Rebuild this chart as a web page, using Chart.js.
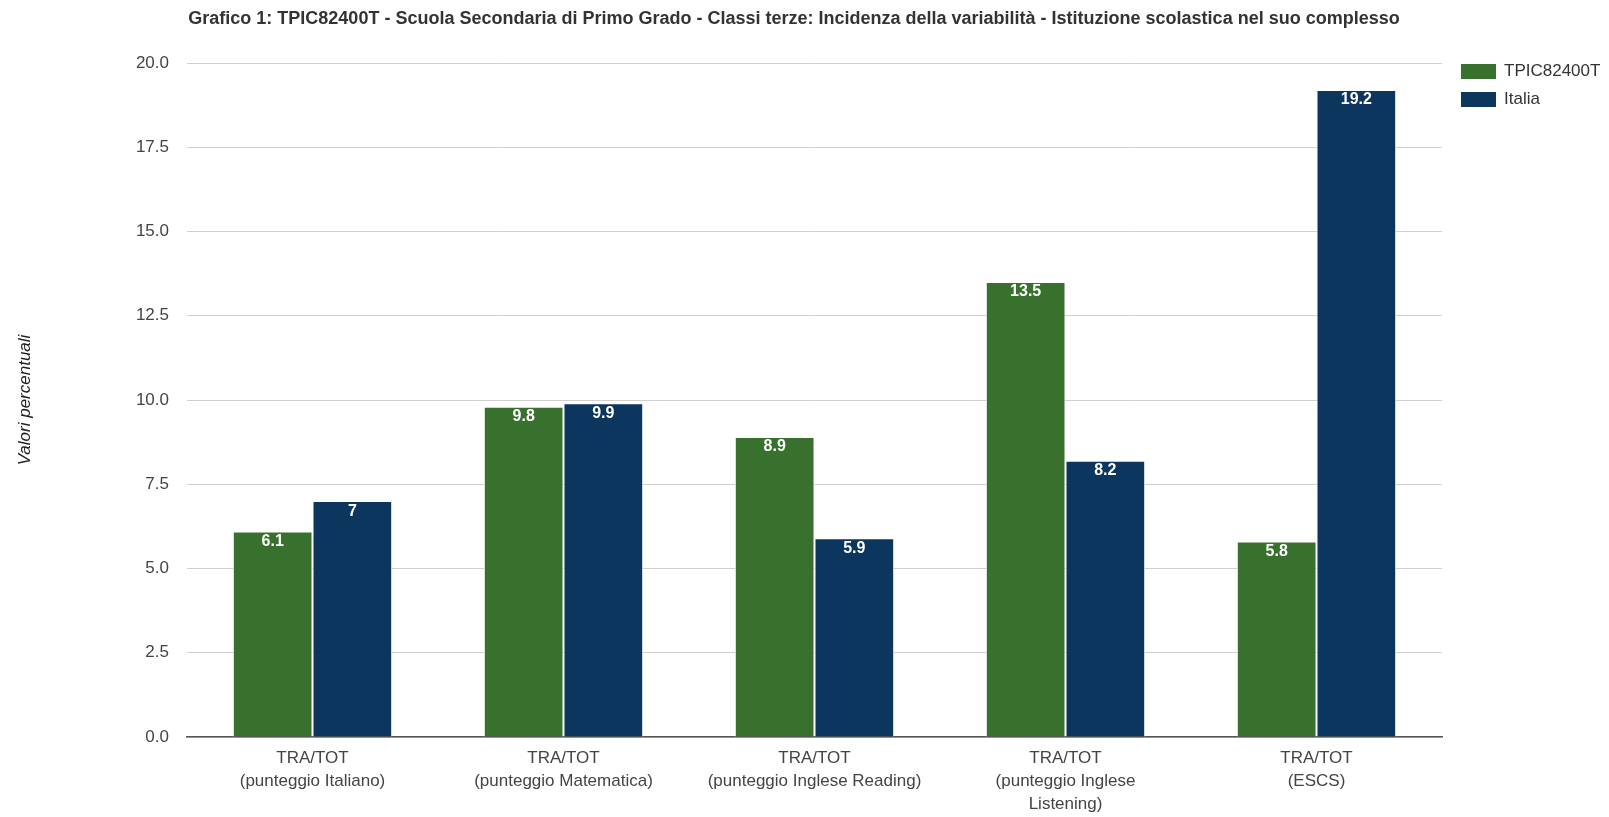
<!DOCTYPE html>
<html>
<head>
<meta charset="utf-8">
<script src="https://cdn.jsdelivr.net/npm/chart.js@4.4.0/dist/chart.umd.min.js"></script>
<style>
  html, body { margin: 0; padding: 0; background: #fff; }
  #wrap { width: 1609px; height: 817px; }
</style>
</head>
<body>
<div id="wrap"><canvas id="grafico"></canvas></div>
<script>
// Dati del grafico
const categorie = [
  ['TRA/TOT', '(punteggio Italiano)'],
  ['TRA/TOT', '(punteggio Matematica)'],
  ['TRA/TOT', '(punteggio Inglese Reading)'],
  ['TRA/TOT', '(punteggio Inglese', 'Listening)'],
  ['TRA/TOT', '(ESCS)']
];
const valoriScuola = [6.1, 9.8, 8.9, 13.5, 5.8];
const valoriItalia = [7, 9.9, 5.9, 8.2, 19.2];
const nomiSerie = ['TPIC82400T', 'Italia'];
const titolo = 'Grafico 1: TPIC82400T - Scuola Secondaria di Primo Grado - Classi terze: Incidenza della variabilità - Istituzione scolastica nel suo complesso';
const titoloAsseY = 'Valori percentuali';

const FONT = '"Liberation Sans", Arial, sans-serif';

// Titolo disegnato a mano
const pluginTitolo = {
  id: 'titolo',
  afterDraw(chart) {
    const ctx = chart.ctx;
    ctx.save();
    ctx.font = 'bold 18px ' + FONT;
    ctx.fillStyle = '#333';
    ctx.textAlign = 'center';
    ctx.textBaseline = 'middle';
    ctx.fillText(titolo, 794, 19);
    ctx.restore();
  }
};

// Etichette dei valori dentro le barre
const pluginValori = {
  id: 'valori',
  afterDatasetsDraw(chart) {
    const ctx = chart.ctx;
    ctx.save();
    ctx.font = 'bold 16px ' + FONT;
    ctx.fillStyle = '#fff';
    ctx.textAlign = 'center';
    ctx.textBaseline = 'middle';
    chart.data.datasets.forEach((ds, i) => {
      chart.getDatasetMeta(i).data.forEach((bar, j) => {
        ctx.fillText(String(ds.data[j]), bar.x, bar.y + 10);
      });
    });
    ctx.restore();
  }
};

// Legenda a destra
const pluginLegenda = {
  id: 'legenda',
  afterDraw(chart) {
    const ctx = chart.ctx;
    ctx.save();
    ctx.font = '17px ' + FONT;
    ctx.textBaseline = 'middle';
    chart.data.datasets.forEach((ds, i) => {
      const y = 71 + i * 28;
      ctx.fillStyle = ds.backgroundColor;
      ctx.fillRect(1461, y - 7, 35, 15);
      ctx.fillStyle = '#333';
      ctx.fillText(ds.label, 1504, y);
    });
    ctx.restore();
  }
};

new Chart(document.getElementById('grafico'), {
  type: 'bar',
  data: {
    labels: categorie,
    datasets: [
      {
        label: nomiSerie[0],
        data: valoriScuola,
        backgroundColor: '#38712d',
        borderColor: '#ffffff',
        borderWidth: 1,
        categoryPercentage: 0.635,
        barPercentage: 1
      },
      {
        label: nomiSerie[1],
        data: valoriItalia,
        backgroundColor: '#0c365e',
        borderColor: '#ffffff',
        borderWidth: 1,
        categoryPercentage: 0.635,
        barPercentage: 1
      }
    ]
  },
  options: {
    responsive: true,
    maintainAspectRatio: false,
    animation: false,
    layout: { padding: { left: 10, right: 167, top: 63, bottom: 0 } },
    plugins: {
      legend: { display: false },
      title: { display: false },
      tooltip: { enabled: false }
    },
    scales: {
      y: {
        min: 0,
        max: 20,
        afterFit(scale) { scale.width = 177; },
        ticks: {
          stepSize: 2.5,
          padding: 18,
          color: '#444',
          font: { family: FONT, size: 17 },
          callback: v => v.toFixed(1)
        },
        grid: { color: '#d0d0d0', drawTicks: false },
        border: { display: false },
        title: {
          display: true,
          text: titoloAsseY,
          color: '#222',
          padding: { top: 5, bottom: 2 },
          font: { family: FONT, size: 17, style: 'italic' }
        }
      },
      x: {
        afterFit(scale) { scale.height = 80; },
        ticks: {
          padding: 10,
          color: '#444',
          maxRotation: 0,
          autoSkip: false,
          font: { family: FONT, size: 17, lineHeight: 1.35 }
        },
        grid: { display: false, drawTicks: false },
        border: { display: true, color: '#555', width: 1.5 }
      }
    }
  },
  plugins: [pluginTitolo, pluginValori, pluginLegenda]
});
</script>
</body>
</html>
